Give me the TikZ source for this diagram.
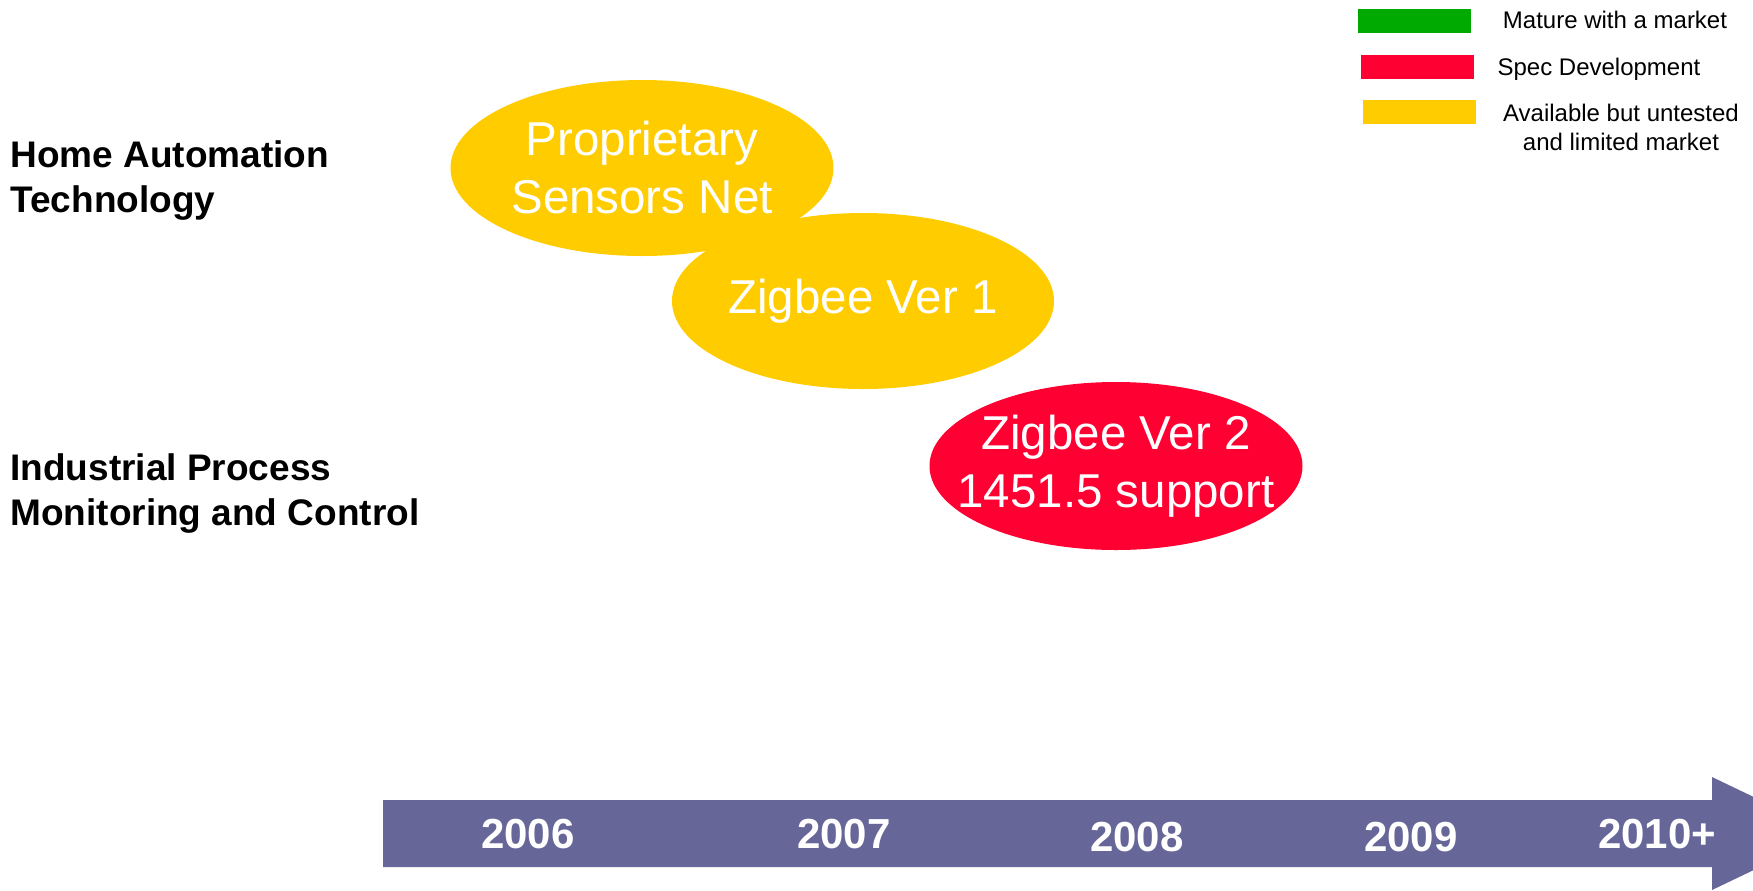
\documentclass[tikz,border=0pt]{standalone}
\usepackage{fontspec}
\setmainfont{Liberation Sans}
\usepackage{xcolor}
\usetikzlibrary{positioning, shapes.geometric}

\definecolor{tlyellow}{HTML}{FFCC00}
\definecolor{tlred}{HTML}{FF0033}
\definecolor{tlgreen}{HTML}{00AA00}
\definecolor{tlpurple}{HTML}{666699}

\begin{document}
\begin{tikzpicture}[
  x=0.5pt, y=-0.5pt,
  bubble/.style={ellipse, inner sep=0pt, align=center, text=white,
    font=\fontsize{23.75}{29}\selectfont},
  rowlabel/.style={anchor=west, align=left, inner sep=0pt,
    font=\fontsize{18.5}{22.5}\selectfont\bfseries},
  yearlabel/.style={text=white, inner sep=0pt, font=\fontsize{21}{25}\selectfont\bfseries},
  legendtext/.style={inner sep=0pt, align=center, font=\fontsize{12}{14.5}\selectfont}
]
\useasboundingbox (0,0) rectangle (1753,890);
\clip (0,0) rectangle (1753,890);

% Row labels
\node[rowlabel] (home) at (10,181) {Home Automation\\Technology};
\node[rowlabel] (indus) at (10,494) {Industrial Process\\Monitoring and Control};

% Technology bubbles
\node[bubble, fill=tlyellow, minimum width=191.5pt, minimum height=88pt] (prop) at (642,168) {Proprietary\\Sensors Net};
\node[bubble, fill=tlyellow, minimum width=191pt, minimum height=88pt] (zb1) at (863,301) {Zigbee Ver 1};
\node[bubble, fill=tlred, inner xsep=-14pt, minimum width=186.5pt, minimum height=84pt] (zb2) at (1116,466) {Zigbee Ver 2\\1451.5 support};

% Legend
\fill[tlgreen] (1358,9) rectangle (1471,33);
\fill[tlred] (1361,55) rectangle (1474,79);
\fill[tlyellow] (1363,100) rectangle (1476,124);
\node[legendtext] (lgreen) at (1615,20) {Mature with a market};
\node[legendtext] (lred) at (1599,69) {Spec Development};
\node[legendtext] (lyellow) at (1621,127) {Available but untested\\and limited market};

% Time line arrow
\fill[tlpurple] (383,800) -- (1712,800) -- (1712,777) -- (1830,833.5)
  -- (1712,890) -- (1712,867) -- (383,867) -- cycle;
\node[yearlabel] (y2006) at (528,834) {2006};
\node[yearlabel] (y2007) at (844,834) {2007};
\node[yearlabel] (y2008) at (1137,837) {2008};
\node[yearlabel] (y2009) at (1411,837) {2009};
\node[yearlabel] (y2010) at (1657,834) {2010+};

\end{tikzpicture}
\end{document}
